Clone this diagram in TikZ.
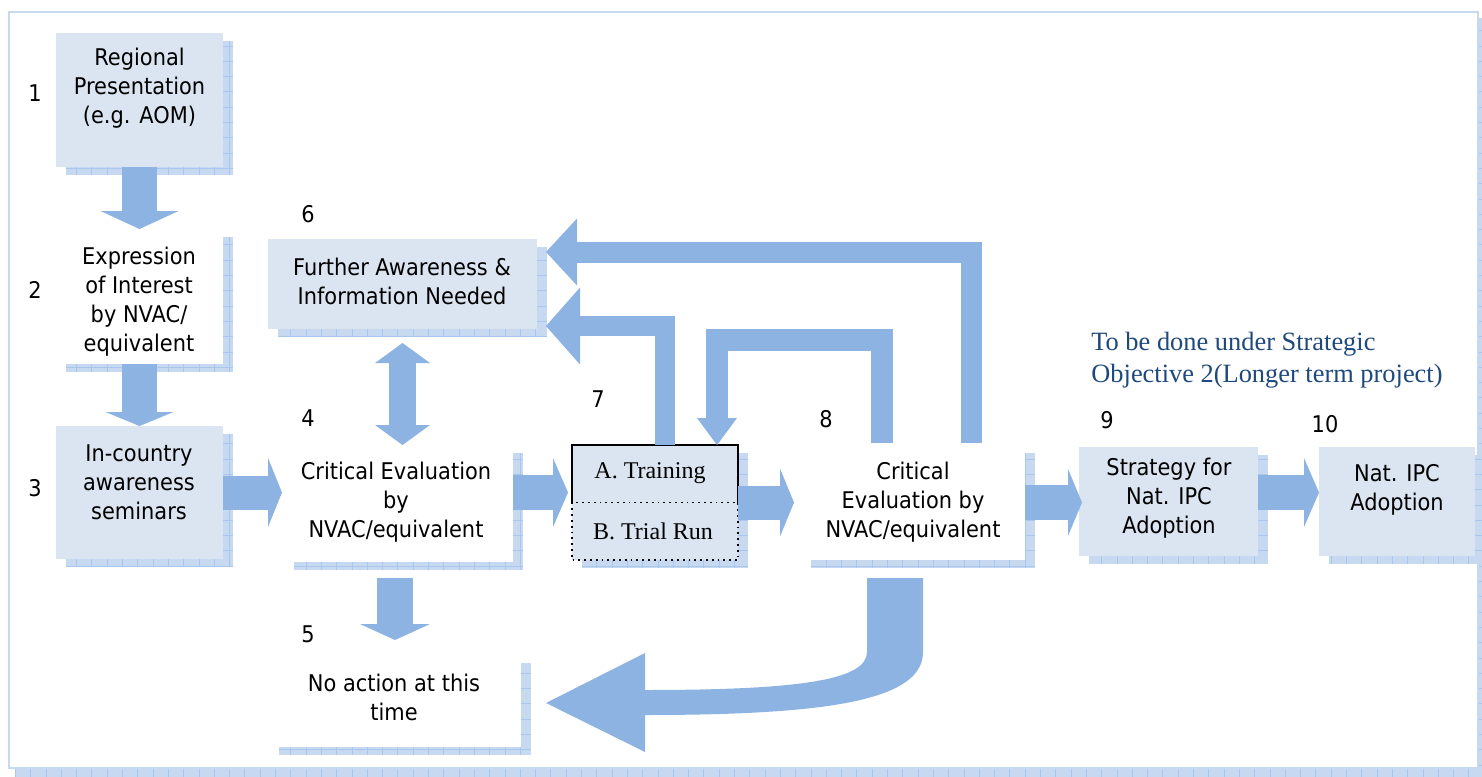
\documentclass[tikz,border=0pt]{standalone}
\usepackage{fontspec}
\setmainfont{DejaVu Sans}[FakeStretch=0.91]
\newfontfamily\serifrm{Liberation Serif}
\usetikzlibrary{arrows.meta}
\definecolor{arrowc}{HTML}{8DB3E2}
\definecolor{boxc}{HTML}{DBE5F1}
\definecolor{shadc}{HTML}{C6D9F1}
\definecolor{gridc}{HTML}{A9C6EC}
\definecolor{bluetxt}{HTML}{1F497D}
% #1 name, #2 x1, #3 y1, #4 x2, #5 y2, #6 fill
\newcommand\shbox[6]{%
  \fill[shadc] ({#2+10},{#3+8}) rectangle ({#4+10},{#5+8});
  \draw[gridc, line width=0.35pt, step=7.65pt] ({#2+10},{#5+8}) grid ({#4+10},{#3+8});
  \node[fill=#6, inner sep=0pt, outer sep=0pt,
        minimum width={(#4-#2)*0.5pt}, minimum height={(#5-#3)*0.5pt}]
        (#1) at ({(#2+#4)/2},{(#3+#5)/2}) {};
}
\begin{document}
\begin{tikzpicture}[x=0.5pt, y=-0.5pt,
  txt/.style={font=\fontsize{11.5}{14.5}\selectfont, align=center, inner sep=0pt},
  num/.style={font=\fontsize{11.5}{14.5}\selectfont, inner sep=0pt},
  sertxt/.style={font=\serifrm\fontsize{12}{14}\selectfont, inner sep=0pt},
  blk/.style n args={3}{draw=arrowc, line width=#1, line join=miter, line cap=butt,
      -{Triangle[length=#2,width=#3,line width=0pt]}},
  dblk/.style n args={3}{draw=arrowc, line width=#1, line cap=butt,
      {Triangle[length=#2,width=#3,line width=0pt]}-{Triangle[length=#2,width=#3,line width=0pt]}}
]
\useasboundingbox (0,0) rectangle (1482,776);
\clip (0,0) rectangle (1482,776);

% outer frame
\fill[shadc] (15,18) rectangle (1490,784);
\draw[gridc, line width=0.35pt, step=7.65pt] (15,784) grid (1490,18);
\draw[shadc, line width=1pt, fill=white] (9,12) rectangle (1478,768);

% boxes
\shbox{b1}{56}{33}{223}{167}{boxc}
\shbox{b2}{56}{229}{223}{364}{white}
\shbox{b3}{56}{426}{223}{559}{boxc}
\shbox{b4}{284}{445}{513}{562}{white}
\shbox{b5}{269}{655}{521}{747}{white}
\shbox{b6}{268}{239}{537}{329}{boxc}
\shbox{b7}{572}{445}{738}{560}{boxc}
\shbox{b8}{801}{445}{1025}{560}{white}
\shbox{b9}{1079}{447}{1258}{556}{boxc}
\shbox{b10}{1319}{447}{1475}{556}{boxc}

% box 7 borders
\draw[black, line width=1pt] (b7.west) -- (b7.north west) -- (b7.north east) -- (b7.east);
\draw[black, line width=0.9pt, dotted] (b7.west) rectangle (b7.south east);

% straight arrows
\draw[blk={17.5pt}{9pt}{39pt}] (b1.south) -- (b2.north);
\draw[blk={17.5pt}{7pt}{34pt}] (b2.south) -- (b3.north);
\draw[blk={17pt}{7pt}{34.5pt}] (b3.east) -- ([xshift=-1pt]b3.east -| b4.west);
\draw[blk={17.5pt}{7.5pt}{34.5pt}] ([yshift=5.5pt]b4.east) -- ([yshift=5.5pt,xshift=-2pt]b4.east -| b7.west);
\draw[blk={17pt}{7pt}{34pt}] (b7.east) -- ([xshift=-3.5pt]b7.east -| b8.west);
\draw[blk={17.5pt}{7pt}{33.5pt}] (b8.east) -- ([xshift=1.5pt]b8.east -| b9.west);
\draw[blk={17.5pt}{7.5pt}{34.5pt}] ([yshift=4.5pt]b9.east) -- ([yshift=4.5pt]b9.east -| b10.west);
\draw[blk={18pt}{8pt}{35pt}] ([xshift=-1.75pt,yshift=-8pt]b4.south) -- ([xshift=-1.75pt,yshift=7.5pt]b4.south |- b5.north);
\draw[dblk={13.5pt}{10pt}{27.5pt}] ([yshift=-7pt]b6.south) -- (b6.south |- b4.north);

% loop arrows
\draw[blk={10.5pt}{15.5pt}{33.5pt}] ([xshift=29.25pt,yshift=1pt]b8.north) |- ([xshift=4.5pt,yshift=16pt]b6.east);
\draw[blk={10pt}{17pt}{38.5pt}] ([xshift=5pt]b7.north) |- ([xshift=4.5pt,yshift=-21pt]b6.east);
\draw[blk={11pt}{13.5pt}{20pt}] ([xshift=-15.5pt,yshift=1pt]b8.north) -- ++(0,-103) -| ([xshift=31pt]b7.north);

% curved arrow from 8 to 5
\fill[arrowc] (867,578) -- (867,652) .. controls (867,680) and (800,690) .. (645,690)
  -- (645,653) -- (546,703) -- (645,752) -- (645,715)
  .. controls (830,715) and (923,700) .. (923,652) -- (923,578) -- cycle;

% texts
\node[txt] (t1) at (139.5,88) {Regional\\Presentation\\(e.g. AOM)};
\node[txt] (t2) at (139,302) {Expression\\of Interest\\by NVAC/\\equivalent};
\node[txt] (t3) at (139,482) {In-country\\awareness\\seminars};
\node[txt] (t4) at (396,502) {Critical Evaluation\\by\\NVAC/equivalent};
\node[txt] (t5) at (394,697) {No action at this\\time};
\node[txt] (t6) at (402,281) {Further Awareness \&\\Information Needed};
\node[sertxt] (t7a) at (650,473) {A. Training};
\node[sertxt] (t7b) at (653,531) {B. Trial Run};
\node[txt] (t8) at (913,502) {Critical\\Evaluation by\\NVAC/equivalent};
\node[txt] (t9) at (1169,498) {Strategy for\\Nat. IPC\\Adoption};
\node[txt] (t10) at (1397,489.5) {Nat. IPC\\Adoption};
\node[font=\serifrm\fontsize{13.2}{16}\selectfont, text=bluetxt, align=left, anchor=west, inner sep=0pt]
  (note) at (1091,360) {To be done under Strategic\\Objective 2(Longer term project)};

% numbers
\node[num] (n1) at (35,93) {1};
\node[num] (n2) at (35,290) {2};
\node[num] (n3) at (35,488) {3};
\node[num] (n4) at (308,418) {4};
\node[num] (n5) at (308,634) {5};
\node[num] (n6) at (308,214) {6};
\node[num] (n7) at (598,399) {7};
\node[num] (n8) at (826,419) {8};
\node[num] (n9) at (1107,420) {9};
\node[num] (n10) at (1325,424) {10};
\end{tikzpicture}
\end{document}
